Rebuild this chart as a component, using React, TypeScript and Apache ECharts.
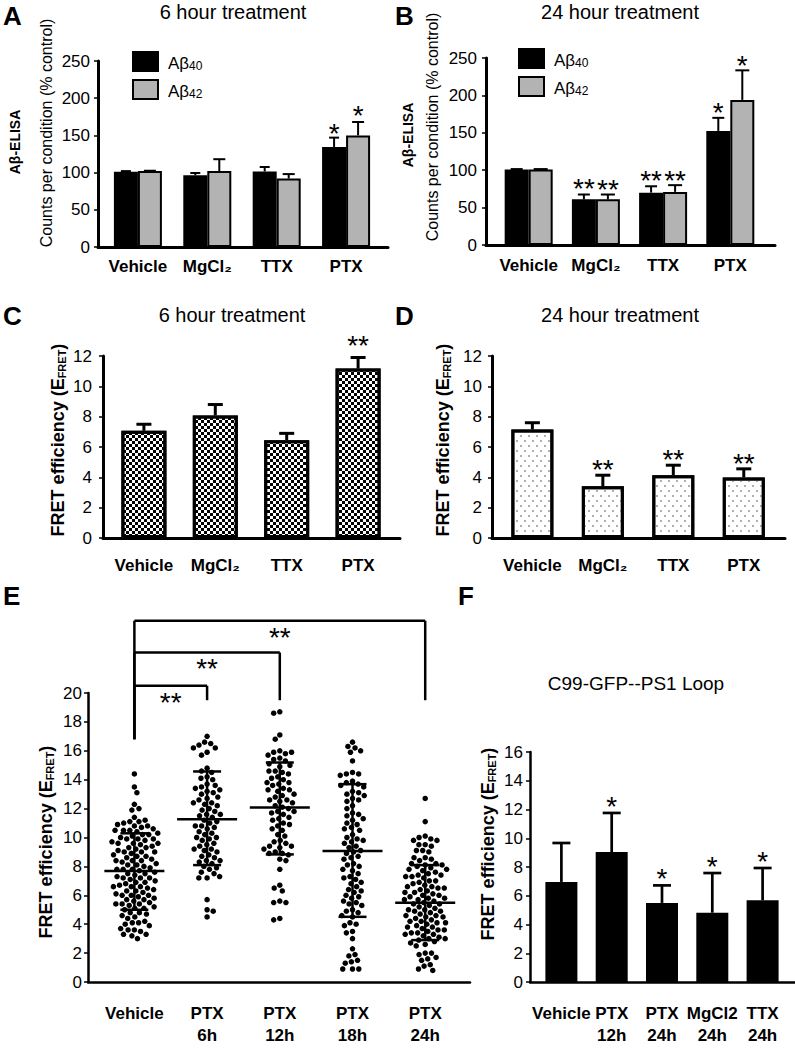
import React, { useEffect, useRef } from 'react';
import * as echarts from 'echarts';

const FONT = '"Liberation Sans", Arial, Helvetica, sans-serif';

// ---------- Panels A / B : Aβ ELISA ----------
const abCategories = ['Vehicle', 'MgCl₂', 'TTX', 'PTX'];
const a40Mean = [101, 96.5, 101.5, 134.5];
const a40Top = [102, 99.5, 107.5, 147];
const a40Stars = ['', '', '', '*'];
const a42Mean = [102, 102, 92, 150];
const a42Top = [102.5, 118, 98, 168];
const a42Stars = ['', '', '', '*'];

const b40Mean = [101, 61, 70, 152.5];
const b40Top = [101.5, 67.5, 78.5, 170];
const b40Stars = ['', '**', '**', '*'];
const b42Mean = [101, 61, 71, 194];
const b42Top = [101.5, 67.5, 80, 233.5];
const b42Stars = ['', '**', '**', '*'];

// ---------- Panels C / D : FRET ----------
const cdCategories = ['Vehicle', 'MgCl₂', 'TTX', 'PTX'];
const cMean = [7.07, 8.08, 6.45, 11.17];
const cTop = [7.5, 8.8, 6.9, 11.9];
const cStars = ['', '', '', '**'];
const dMean = [7.16, 3.41, 4.14, 3.99];
const dTop = [7.6, 4.14, 4.8, 4.56];
const dStars = ['', '**', '**', '**'];

// ---------- Panel E : scatter ----------
const eCategories = ['Vehicle', 'PTX\n6h', 'PTX\n12h', 'PTX\n18h', 'PTX\n24h'];
const eVehicle = [14.4, 13.5, 13.1, 12.3, 12.0, 11.9, 11.4, 11.1, 11.1, 11.0, 11.2, 10.8, 10.8, 10.7, 10.9, 10.5, 10.5, 10.4, 10.6, 10.5,
  10.2, 10.2, 10.1, 10.3, 9.9, 9.9, 9.8, 10.0, 9.9, 9.6, 9.6, 9.5, 9.7, 9.6, 9.3, 9.3, 9.2, 9.4, 9.0, 9.0, 8.9, 9.1, 9.0,
  8.7, 8.7, 8.6, 8.8, 8.4, 8.4, 8.3, 8.5, 8.4, 8.1, 8.1, 8.0, 8.2, 7.8, 7.8, 7.7, 7.9, 7.8, 7.5, 7.5, 7.4, 7.6,
  7.2, 7.2, 7.1, 7.3, 7.2, 6.9, 6.9, 6.8, 7.0, 6.6, 6.6, 6.5, 6.7, 6.6, 6.3, 6.3, 6.2, 6.4, 6.0, 6.0, 5.9, 6.1, 6.0,
  5.7, 5.7, 5.6, 5.8, 5.4, 5.4, 5.3, 5.5, 5.4, 5.1, 5.1, 5.0, 5.2, 4.8, 4.8, 4.7, 4.5, 4.4, 4.6, 4.1, 4.1, 4.0, 4.2, 3.9,
  3.6, 3.6, 3.5, 3.7, 3.3, 3.2, 3.3, 3.0];
const ePtx6 = [17.0, 16.6, 16.5, 16.4, 16.2, 16.2, 15.9, 15.7, 14.8, 14.6, 14.5, 14.2, 14.0, 14.1, 13.7, 13.5, 13.6, 13.4,
  13.2, 13.1, 13.3, 13.0, 12.8, 12.7, 12.6, 12.4, 12.3, 12.2, 12.4, 12.0, 11.9, 11.8, 11.6, 11.5, 11.4, 11.6,
  11.2, 11.1, 11.0, 10.8, 10.7, 10.6, 10.8, 10.4, 10.3, 10.2, 10.0, 9.9, 9.8, 10.0, 9.6, 9.5, 9.4, 9.2, 9.1, 9.0, 9.2,
  8.8, 8.7, 8.6, 8.4, 8.3, 8.2, 8.4, 8.0, 7.9, 7.8, 7.6, 7.5, 7.2, 7.2, 7.3, 5.7, 5.0, 4.9, 4.5];
const ePtx12 = [18.7, 18.6, 17.1, 16.8, 16.0, 15.9, 15.8, 15.9, 15.7, 15.5, 15.4, 15.3, 15.1, 14.9, 15.0, 14.6, 14.5, 14.4, 14.6,
  14.2, 14.1, 14.0, 13.8, 13.7, 13.6, 13.8, 13.4, 13.3, 13.2, 13.3, 13.0, 12.9, 12.8, 12.6, 12.5, 12.6, 12.4,
  12.2, 12.1, 12.0, 11.8, 11.7, 11.6, 11.8, 11.4, 11.3, 11.2, 11.0, 10.9, 10.8, 10.6, 10.5, 10.2, 10.1,
  9.8, 9.7, 9.6, 9.4, 9.3, 9.4, 9.2, 9.0, 8.9, 8.8, 8.9, 8.5, 8.4, 7.8, 6.7, 6.5, 6.3, 5.6, 5.5, 5.5, 4.4, 4.3];
const ePtx18 = [16.6, 16.3, 16.2, 16.0, 15.9, 15.3, 14.5, 14.4, 14.4, 14.3, 13.9, 13.8, 13.7, 13.6, 13.5, 13.2, 13.1, 13.0, 12.9,
  12.7, 12.6, 12.5, 12.2, 12.0, 11.7, 11.6, 11.5, 11.3, 11.2, 11.0, 10.9, 10.7, 10.6, 10.5, 10.2, 10.0, 9.9, 9.8, 9.7,
  9.6, 9.4, 9.3, 9.1, 9.0, 8.9, 8.7, 8.6, 8.5, 8.2, 8.1, 8.0, 7.8, 7.7, 7.5, 7.3, 7.2, 7.1, 6.9, 6.8, 6.6, 6.4, 6.3,
  6.2, 6.0, 5.9, 5.8, 5.6, 5.5, 5.4, 5.3, 5.0, 4.9, 4.8, 4.6, 4.5, 4.1, 4.0, 3.9, 3.5, 3.4, 3.0, 2.3, 1.9, 1.8, 1.5,
  1.4, 1.3, 0.9, 0.9, 0.9];
const ePtx24 = [12.7, 11.1, 10.1, 10.0, 9.9, 9.8, 9.8, 9.5, 9.4, 9.5, 9.1, 9.0, 9.1, 8.6, 8.5, 8.4, 8.6, 8.2, 8.1, 8.0, 8.2, 8.1,
  7.9, 7.8, 7.7, 7.8, 7.6, 7.5, 7.4, 7.3, 7.4, 7.2, 7.3, 7.0, 6.9, 7.0, 6.8, 6.7, 6.6, 6.5, 6.6, 6.4, 6.5, 6.3,
  6.2, 6.1, 6.2, 6.0, 6.0, 5.9, 5.8, 5.7, 5.8, 5.6, 5.7, 5.5, 5.4, 5.3, 5.4, 5.2, 5.1, 5.0, 4.9, 5.0, 4.8, 4.9, 4.7,
  4.6, 4.5, 4.6, 4.4, 4.5, 4.3, 4.2, 4.1, 4.2, 4.0, 4.1, 3.9, 3.8, 3.7, 3.8, 3.6, 3.6, 3.5, 3.4, 3.3, 3.4, 3.2, 3.3,
  3.1, 3.0, 2.9, 3.0, 2.8, 2.6, 2.5, 2.7, 2.0, 1.9, 2.0, 1.7, 1.6, 1.5, 1.2, 1.1, 0.9, 0.8];
const eMean = [7.68, 11.26, 12.07, 9.06, 5.48];
const eSdLow = [5.0, 8.09, 8.83, 4.51, 2.9];
const eSdHigh = [10.29, 14.57, 15.19, 13.69, 8.09];
const eBracketTo = [1, 2, 4];
const eBracketLevel = [20.5, 22.8, 25.0];
const eBracketStars = ['**', '**', '**'];
const eBracketLegBottom = 19.5;
const eVehicleLegBottom = 16.8;

// ---------- Panel F ----------
const fCategories = ['Vehicle', 'PTX\n12h', 'PTX\n24h', 'MgCl2\n24h', 'TTX\n24h'];
const fMean = [6.96, 9.04, 5.5, 4.82, 5.68];
const fTop = [9.67, 11.76, 6.72, 7.58, 7.93];
const fStars = ['', '*', '*', '*', '*'];

// ---------- layout ----------
const GRIDS = [
  { left: 98, top: 61, width: 290, height: 186 },
  { left: 486, top: 58, width: 289, height: 187 },
  { left: 103, top: 356, width: 297, height: 182 },
  { left: 492, top: 356, width: 293, height: 182 },
  { left: 88, top: 693, width: 382, height: 289 },
  { left: 530, top: 752, width: 265, height: 230 },
];
const XRANGE = [
  [-0.575, 3.604],
  [-0.635, 3.665],
  [-0.573, 3.587],
  [-0.573, 3.585],
  [-0.638, 4.616],
  [-0.624, 4.644],
];

function swarmOffsets(values: number[], pxPerUnit: number, spacing: number): number[] {
  const placed: { x: number; y: number }[] = [];
  const out: number[] = [];
  const s2 = spacing * spacing;
  values.forEach((v, idx) => {
    const y = v * pxPerUnit;
    const cands: number[] = [0];
    for (const p of placed) {
      const dy = Math.abs(p.y - y);
      if (dy < spacing) {
        const dx = Math.sqrt(s2 - dy * dy);
        cands.push(p.x + dx, p.x - dx);
      }
    }
    const sign = idx % 2 === 0 ? 1 : -1;
    cands.sort((a, b) => Math.abs(a) - Math.abs(b) || sign * (b - a));
    let chosen = 0;
    for (const c of cands) {
      let ok = true;
      for (const p of placed) {
        const dx = p.x - c;
        const dy = p.y - y;
        if (dx * dx + dy * dy < s2 - 0.01) { ok = false; break; }
      }
      if (ok) { chosen = c; break; }
    }
    placed.push({ x: chosen, y });
    out.push(chosen);
  });
  return out;
}

function xAx(gi: number, cats: string[], margin: number, lw: number) {
  return {
    type: 'value', gridIndex: gi, min: XRANGE[gi][0], max: XRANGE[gi][1],
    splitLine: { show: false }, axisTick: { show: false },
    axisLine: { show: true, onZero: false, lineStyle: { color: '#000', width: lw } },
    axisLabel: {
      customValues: cats.map((_, i) => i),
      formatter: (v: number) => cats[Math.round(v)] ?? '',
      margin, fontSize: 17, fontWeight: 'bold', color: '#000', fontFamily: FONT, lineHeight: 22,
    },
  };
}

function yAx(gi: number, max: number, interval: number, margin: number, lw: number) {
  return {
    type: 'value', gridIndex: gi, min: 0, max, interval,
    splitLine: { show: false },
    axisLine: { show: true, onZero: false, lineStyle: { color: '#000', width: lw } },
    axisTick: { show: true, length: 4, lineStyle: { color: '#000', width: 1.5 } },
    axisLabel: { margin, fontSize: 17, color: '#000', fontFamily: FONT },
  };
}

function errSeries(gi: number, means: number[], tops: number[], stars: string[], offset: number,
  capHalf: number, lw: number, starGap: number) {
  return {
    type: 'custom', xAxisIndex: gi, yAxisIndex: gi, z: 5, silent: true, clip: false,
    data: means.map((m, i) => [i, m, tops[i]]),
    renderItem: (params: any, api: any) => {
      const i = api.value(0); const m = api.value(1); const t = api.value(2);
      const p0 = api.coord([i, m]); const p1 = api.coord([i, t]);
      const x = p0[0] + offset;
      const children: any[] = [];
      if (t > m) {
        children.push({ type: 'line', shape: { x1: x, y1: p0[1], x2: x, y2: p1[1] }, style: { stroke: '#000', lineWidth: lw } });
        children.push({ type: 'line', shape: { x1: x - capHalf, y1: p1[1], x2: x + capHalf, y2: p1[1] }, style: { stroke: '#000', lineWidth: lw } });
      }
      const s = stars[params.dataIndex];
      if (s) {
        children.push({ type: 'text', x, y: p1[1] - starGap + 6.4,
          style: { text: s, fontSize: 28, fontFamily: FONT, fill: '#000', align: 'center', verticalAlign: 'middle' } });
      }
      return { type: 'group', children };
    },
  };
}

function buildOption() {
  const checkerDecal = { symbol: 'rect', symbolSize: 1, color: '#000', dashArrayX: [[3, 3], [0, 3, 3, 0]], dashArrayY: [3, 0] };
  const dotDecal = { symbol: 'rect', symbolSize: 0.7, color: '#666', dashArrayX: [[2, 6], [0, 4, 2, 2]], dashArrayY: [2, 3] };

  const eGroups = [eVehicle, ePtx6, ePtx12, ePtx18, ePtx24];
  const eG = GRIDS[4];
  const eYpx = eG.height / 20;
  const eXpx = eG.width / (XRANGE[4][1] - XRANGE[4][0]);
  const eScatter: number[][] = [];
  eGroups.forEach((vals, gi) => {
    const offs = swarmOffsets(vals, eYpx, 6.3);
    offs.forEach((dx, k) => eScatter.push([gi + dx / eXpx, vals[k]]));
  });

  const legendRich = {
    a: { fontSize: 17, fontFamily: FONT, color: '#000', lineHeight: 20, verticalAlign: 'bottom', padding: [0, 0, 0, 5] },
    s: { fontSize: 12, fontFamily: FONT, color: '#000', lineHeight: 12, verticalAlign: 'bottom' },
  };
  const legendFmt = (n: string) => `{a|Aβ}{s|${n.slice(2)}}`;

  const fretRich = {
    m: { fontSize: 18, fontWeight: 'bold', fontFamily: FONT, fill: '#000', lineHeight: 20, verticalAlign: 'bottom' },
    s: { fontSize: 11, fontWeight: 'bold', fontFamily: FONT, fill: '#000', lineHeight: 16, verticalAlign: 'bottom' },
  };
  const fretTitle = (x: number, y: number) => ({
    type: 'text', x, y, rotation: Math.PI / 2,
    style: { text: '{m|FRET efficiency (E}{s|FRET}{m|)}', rich: fretRich, align: 'center', verticalAlign: 'middle' },
  });
  const letter = (x: number, y: number, t: string) => ({
    type: 'text', x, y, style: { text: t, fontSize: 26, fontWeight: 'bold', fontFamily: FONT, fill: '#000', align: 'left', verticalAlign: 'middle' },
  });
  const title = (x: number, y: number, t: string, fs = 20) => ({
    type: 'text', x, y, style: { text: t, fontSize: fs, fontFamily: FONT, fill: '#000', align: 'center', verticalAlign: 'middle' },
  });
  const rotText = (x: number, y: number, t: string, fs: number, bold: boolean) => ({
    type: 'text', x, y, rotation: Math.PI / 2,
    style: { text: t, fontSize: fs, fontWeight: bold ? 'bold' : 'normal', fontFamily: FONT, fill: '#000', align: 'center', verticalAlign: 'middle' },
  });

  return {
    animation: false,
    backgroundColor: '#fff',
    textStyle: { fontFamily: FONT },
    grid: GRIDS.map((g) => ({ ...g, containLabel: false, outerBoundsMode: 'none' })),
    xAxis: [
      xAx(0, abCategories, 8, 3),
      xAx(1, abCategories, 9, 3),
      xAx(2, cdCategories, 16, 3),
      xAx(3, cdCategories, 16, 3),
      xAx(4, eCategories, 20, 2.5),
      xAx(5, fCategories, 20, 2.5),
    ],
    yAxis: [
      yAx(0, 250, 50, 8, 3),
      yAx(1, 250, 50, 9, 3),
      yAx(2, 12, 2, 11, 3),
      yAx(3, 12, 2, 10, 3),
      yAx(4, 20, 2, 6, 2.5),
      yAx(5, 16, 2, 7, 2.5),
    ],
    legend: [
      { left: 127, top: 46, orient: 'vertical', itemWidth: 25, itemHeight: 19, itemGap: 7, icon: 'rect', selectedMode: false,
        data: ['Aβ40', 'Aβ42'], formatter: legendFmt, textStyle: { rich: legendRich } },
      { left: 513, top: 43, orient: 'vertical', itemWidth: 25, itemHeight: 19, itemGap: 7, icon: 'rect', selectedMode: false,
        data: ['Aβ40', 'Aβ42'], formatter: legendFmt, textStyle: { rich: legendRich } },
    ],
    series: [
      // A
      { type: 'bar', name: 'Aβ40', xAxisIndex: 0, yAxisIndex: 0, barWidth: 24, barGap: '0%',
        data: a40Mean.map((v, i) => [i, v]), itemStyle: { color: '#000', borderColor: '#000', borderWidth: 2 } },
      { type: 'bar', name: 'Aβ42', xAxisIndex: 0, yAxisIndex: 0, barWidth: 24, barGap: '0%',
        data: a42Mean.map((v, i) => [i, v]), itemStyle: { color: '#b3b3b3', borderColor: '#000', borderWidth: 2 } },
      errSeries(0, a40Mean, a40Top, a40Stars, -12, 5, 2, 11),
      errSeries(0, a42Mean, a42Top, a42Stars, 12, 6, 2, 13),
      // B
      { type: 'bar', name: 'Aβ40', xAxisIndex: 1, yAxisIndex: 1, barWidth: 24, barGap: '0%',
        data: b40Mean.map((v, i) => [i, v]), itemStyle: { color: '#000', borderColor: '#000', borderWidth: 2 } },
      { type: 'bar', name: 'Aβ42', xAxisIndex: 1, yAxisIndex: 1, barWidth: 24, barGap: '0%',
        data: b42Mean.map((v, i) => [i, v]), itemStyle: { color: '#b3b3b3', borderColor: '#000', borderWidth: 2 } },
      errSeries(1, b40Mean, b40Top, b40Stars, -12, 6, 2, 12),
      errSeries(1, b42Mean, b42Top, b42Stars, 12, 7, 2, 11),
      // C
      { type: 'bar', name: 'C', xAxisIndex: 2, yAxisIndex: 2, barWidth: 45,
        data: cMean.map((v, i) => [i, v]), itemStyle: { color: '#fff', borderColor: '#000', borderWidth: 3, decal: checkerDecal } },
      errSeries(2, cMean, cTop, cStars, 0, 7.5, 3, 18),
      // D
      { type: 'bar', name: 'D', xAxisIndex: 3, yAxisIndex: 3, barWidth: 42,
        data: dMean.map((v, i) => [i, v]), itemStyle: { color: '#fff', borderColor: '#000', borderWidth: 3, decal: dotDecal } },
      errSeries(3, dMean, dTop, dStars, 0, 7.5, 3, 12),
      // E scatter
      { type: 'scatter', name: 'E', xAxisIndex: 4, yAxisIndex: 4, symbolSize: 5.5, data: eScatter,
        itemStyle: { color: '#000', opacity: 1 }, silent: true },
      { type: 'custom', name: 'Emean', xAxisIndex: 4, yAxisIndex: 4, z: 5, silent: true, clip: false,
        data: eMean.map((m, i) => [i, m, eSdLow[i], eSdHigh[i]]),
        renderItem: (_p: any, api: any) => {
          const i = api.value(0);
          const pm = api.coord([i, api.value(1)]);
          const pl = api.coord([i, api.value(2)]);
          const ph = api.coord([i, api.value(3)]);
          const st = { stroke: '#000', lineWidth: 2.5 };
          return { type: 'group', children: [
            { type: 'line', shape: { x1: pm[0], y1: pl[1], x2: pm[0], y2: ph[1] }, style: st },
            { type: 'line', shape: { x1: pm[0] - 30, y1: pm[1], x2: pm[0] + 30, y2: pm[1] }, style: st },
            { type: 'line', shape: { x1: pm[0] - 14, y1: pl[1], x2: pm[0] + 14, y2: pl[1] }, style: st },
            { type: 'line', shape: { x1: pm[0] - 14, y1: ph[1], x2: pm[0] + 14, y2: ph[1] }, style: st },
          ] };
        } },
      { type: 'custom', name: 'Ebrackets', xAxisIndex: 4, yAxisIndex: 4, z: 5, silent: true, clip: false,
        data: eBracketTo.map((t, k) => [t, eBracketLevel[k]]),
        renderItem: (p: any, api: any) => {
          const to = api.value(0); const lvl = api.value(1);
          const a = api.coord([0, lvl]); const b = api.coord([to, lvl]);
          const bLeg = api.coord([to, eBracketLegBottom]);
          const vLeg = api.coord([0, eVehicleLegBottom]);
          const st = { stroke: '#000', lineWidth: 2.5 };
          return { type: 'group', children: [
            { type: 'line', shape: { x1: a[0], y1: vLeg[1], x2: a[0], y2: a[1] }, style: st },
            { type: 'line', shape: { x1: a[0], y1: a[1], x2: b[0], y2: b[1] }, style: st },
            { type: 'line', shape: { x1: b[0], y1: b[1], x2: b[0], y2: bLeg[1] }, style: st },
            { type: 'text', x: (a[0] + b[0]) / 2, y: a[1] + 10 + 6.4,
              style: { text: eBracketStars[p.dataIndex], fontSize: 28, fontFamily: FONT, fill: '#000', align: 'center', verticalAlign: 'middle' } },
          ] };
        } },
      // F
      { type: 'bar', name: 'F', xAxisIndex: 5, yAxisIndex: 5, barWidth: 32,
        data: fMean.map((v, i) => [i, v]), itemStyle: { color: '#000' } },
      errSeries(5, fMean, fTop, fStars, 0, 9, 2.7, 13),
    ],
    graphic: [
      letter(3, 16, 'A'), letter(395, 16, 'B'), letter(3, 316, 'C'), letter(395, 316, 'D'), letter(3, 596, 'E'), letter(458, 596, 'F'),
      title(233, 12, '6 hour treatment'), title(620, 12, '24 hour treatment'),
      title(232, 315, '6 hour treatment'), title(620, 315, '24 hour treatment'),
      title(636, 683, 'C99-GFP--PS1 Loop', 19),
      rotText(15, 142, 'Aβ-ELISA', 14, true), rotText(46, 133, 'Counts per condition (% control)', 16, false),
      rotText(408, 135, 'Aβ-ELISA', 14, true), rotText(432, 127, 'Counts per condition (% control)', 16, false),
      fretTitle(57, 440), fretTitle(442, 440), fretTitle(45, 842), fretTitle(487, 844),
    ],
  };
}

export default function App() {
  const ref = useRef<HTMLDivElement>(null);
  useEffect(() => {
    const chart = echarts.init(ref.current!, null, { renderer: 'svg' });
    chart.setOption(buildOption() as any);
    return () => chart.dispose();
  }, []);
  return <div ref={ref} style={{ position: 'absolute', left: 0, top: 0, width: 795, height: 1049, background: '#fff' }} />;
}
